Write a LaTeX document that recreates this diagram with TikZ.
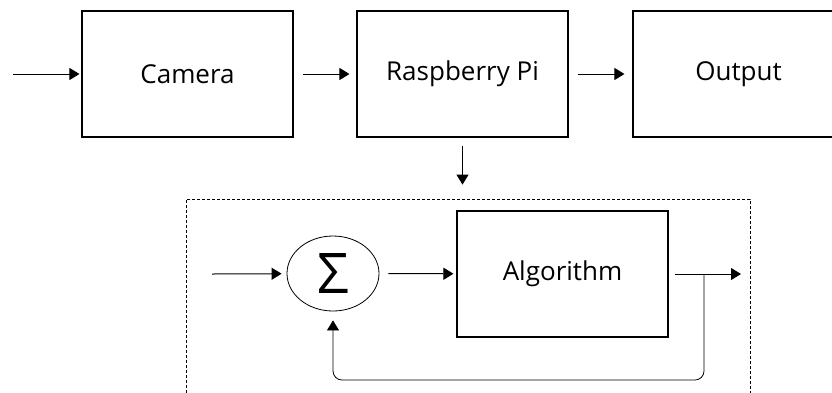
\documentclass[tikz,border=0pt]{standalone}
\usepackage{fontspec}
\setmainfont{Open Sans}
\usetikzlibrary{arrows.meta,positioning,shapes}
\usepackage{xcolor}

\begin{document}
\begin{tikzpicture}[x=1pt,y=-1pt,
    block/.style={draw, line width=1.1pt, minimum width=211pt, minimum height=126pt,
      font=\fontsize{26}{26}\selectfont, inner sep=0pt},
    flow/.style={-{Triangle[length=10pt,width=12pt]}, line width=1pt},
    sumnode/.style={draw, ellipse, line width=0.8pt, minimum width=92pt, minimum height=75pt, inner sep=0pt}]
  \clip[use as bounding box] (0,0) rectangle (832,392);

  % top row
  \node[block] (cam) at (187.5,74) {Camera};
  \node[block] (rpi) at (462.5,74) {Raspberry Pi};
  \node[block] (out) at (738.5,74) {Output};
  \coordinate (in) at (13,74);
  \draw[flow, shorten >=2pt] (in) -- (cam);
  \draw[flow, shorten <=9pt, shorten >=7pt] (cam) -- (rpi);
  \draw[flow, shorten <=9pt, shorten >=8pt] (rpi) -- (out);

  % processing frame
  \node[draw, dash pattern=on 3pt off 2pt, line width=0.8pt, minimum width=564pt, minimum height=201pt] (frame) at (468,299.5) {};
  \draw[flow, shorten <=8pt, shorten >=14pt] (rpi.south) -- (rpi.south |- frame.north);

  \node[sumnode] (sig) at (333,273.5) {\fontsize{56}{56}\selectfont Σ};
  \node[block] (alg) at (562.5,274) {Algorithm};
  \coordinate (in2) at (212,274);
  \coordinate (out2) at (741,274);
  \coordinate (jn) at (704,274);
  \coordinate (fb) at (0,380);
  \draw[flow, shorten >=5pt] (in2) -- (sig);
  \draw[flow, shorten <=9pt, shorten >=3pt] (sig) -- (alg);
  \draw[flow, shorten <=6pt] (alg.east) -- (out2);
  \draw[flow, line width=0.8pt, rounded corners=9pt, shorten >=9pt] (jn) -- (jn |- fb) -- (sig.south |- fb) -- (sig.south);
\end{tikzpicture}
\end{document}
